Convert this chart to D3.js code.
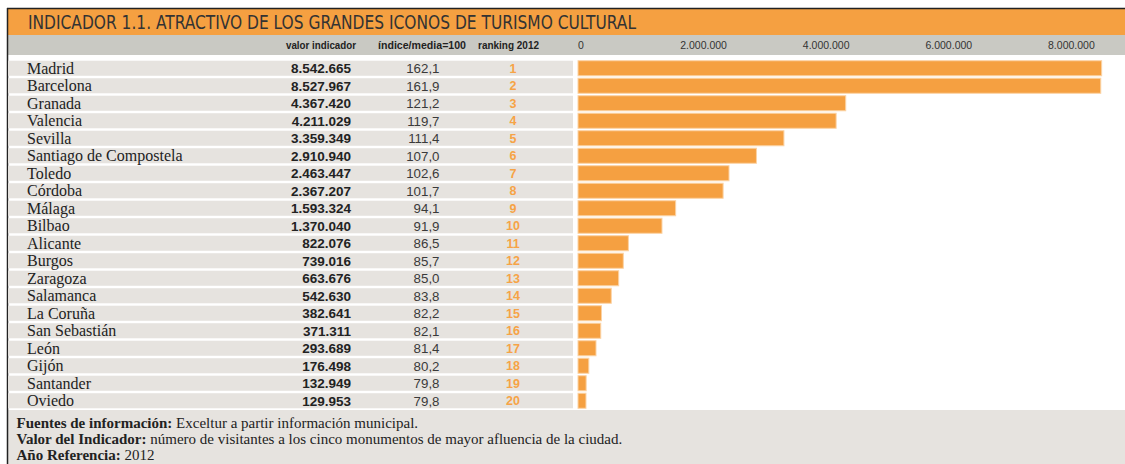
<!DOCTYPE html>
<html>
<head>
<meta charset="utf-8">
<script src="https://cdn.jsdelivr.net/npm/d3@7"></script>
<style>
  body { margin: 0; background: #fff; }
  svg { display: block; }
</style>
</head>
<body>
<svg width="1125" height="464"></svg>
<script>
// data
var cities = ["Madrid", "Barcelona", "Granada", "Valencia", "Sevilla", "Santiago de Compostela",
  "Toledo", "Córdoba", "Málaga", "Bilbao", "Alicante", "Burgos", "Zaragoza", "Salamanca",
  "La Coruña", "San Sebastián", "León", "Gijón", "Santander", "Oviedo"];
var visitors = [8542665, 8527967, 4367420, 4211029, 3359349, 2910940, 2463447, 2367207,
  1593324, 1370040, 822076, 739016, 663676, 542630, 382641, 371311, 293689, 176498, 132949, 129953];
var indexValues = ["162,1", "161,9", "121,2", "119,7", "111,4", "107,0", "102,6", "101,7",
  "94,1", "91,9", "86,5", "85,7", "85,0", "83,8", "82,2", "82,1", "81,4", "80,2", "79,8", "79,8"];
var ranking = d3.range(1, 21);
var xTicks = [0, 2000000, 4000000, 6000000, 8000000];
var columnHeaders = ["valor indicador", "índice/media=100", "ranking 2012"];
var title = "INDICADOR 1.1. ATRACTIVO DE LOS GRANDES ICONOS DE TURISMO CULTURAL";
var notes = [
  ["Fuentes de información:", " Exceltur a partir información municipal."],
  ["Valor del Indicador:", " número de visitantes a los cinco monumentos de mayor afluencia de la ciudad."],
  ["Año Referencia:", " 2012"]
];

var orange = "#f5a041",
    rowGrey = "#e6e3df",
    headGrey = "#c9c9c3",
    dark = "#222";

var svg = d3.select("svg");
var W = 1125, H = 464;

var es = d3.formatLocale({decimal: ",", thousands: ".", grouping: [3], currency: ["", "€"]});
var fmt = es.format(",d");

// frame
svg.append("rect").attr("x", 8).attr("y", 9).attr("width", W - 8).attr("height", 26).attr("fill", orange);
svg.append("rect").attr("x", 8).attr("y", 35).attr("width", W - 8).attr("height", 20).attr("fill", headGrey);
svg.append("rect").attr("x", 8).attr("y", 410).attr("width", W - 8).attr("height", H - 410).attr("fill", rowGrey);
svg.append("line").attr("x1", 7).attr("x2", W).attr("y1", 8.5).attr("y2", 8.5).attr("stroke", "#222").attr("stroke-width", 1.5);
svg.append("line").attr("x1", 7.5).attr("x2", 7.5).attr("y1", 8).attr("y2", H).attr("stroke", "#222").attr("stroke-width", 1.5);

svg.append("text")
  .attr("x", 28).attr("y", 28.5)
  .attr("font-family", "'Liberation Sans Narrow', 'DejaVu Sans Condensed', sans-serif")
  .attr("font-size", 19)
  .attr("fill", "#333")
  .attr("textLength", 608)
  .attr("lengthAdjust", "spacingAndGlyphs")
  .text(title);

// scales
var y = d3.scaleBand().domain(cities).range([59.5, 409.5]).paddingInner(0.14).paddingOuter(0.07);
var x = d3.scaleLinear().domain([0, 8000000]).range([578, 1068.4]);

// column headers
var headX = [286, 378, 478], headW = [70, 88, 61];
svg.selectAll(".colhead").data(columnHeaders).enter().append("text")
  .attr("class", "colhead")
  .attr("x", function(d, i) { return headX[i]; })
  .attr("y", 48.5)
  .attr("font-family", "'Liberation Sans Narrow', 'Liberation Sans', Arial, sans-serif")
  .attr("font-weight", "bold")
  .attr("font-size", 10)
  .attr("fill", dark)
  .attr("textLength", function(d, i) { return headW[i]; })
  .attr("lengthAdjust", "spacingAndGlyphs")
  .text(function(d) { return d; });

// axis labels on the grey bar
svg.selectAll(".tick-lbl").data(xTicks).enter().append("text")
  .attr("class", "tick-lbl")
  .attr("x", function(d) { return x(d) + 3; })
  .attr("y", 48.5)
  .attr("text-anchor", "middle")
  .attr("font-family", "'Liberation Sans Narrow', 'Liberation Sans', Arial, sans-serif")
  .attr("font-size", 10.5)
  .attr("fill", "#333")
  .text(function(d) { return fmt(d); });

// rows
var rows = svg.selectAll(".row").data(cities).enter().append("g")
  .attr("class", "row")
  .attr("transform", function(d) { return "translate(0," + y(d) + ")"; });

rows.append("rect")
  .attr("x", 8).attr("width", 565)
  .attr("height", y.bandwidth())
  .attr("fill", rowGrey);

var mid = y.bandwidth() / 2;

rows.append("text")
  .attr("x", 27).attr("y", mid + 5.5)
  .attr("font-family", "'Liberation Serif', 'Times New Roman', serif")
  .attr("font-size", 16)
  .attr("fill", dark)
  .text(function(d) { return d; });

rows.append("text")
  .attr("x", 351).attr("y", mid + 4.8)
  .attr("text-anchor", "end")
  .attr("font-family", "'Liberation Sans', Arial, sans-serif")
  .attr("font-weight", "bold")
  .attr("font-size", 13.5)
  .attr("fill", dark)
  .text(function(d, i) { return fmt(visitors[i]); });

rows.append("text")
  .attr("x", 439.5).attr("y", mid + 4.8)
  .attr("text-anchor", "end")
  .attr("font-family", "'Liberation Sans', Arial, sans-serif")
  .attr("font-size", 13.3)
  .attr("fill", "#3a3a3a")
  .text(function(d, i) { return indexValues[i]; });

rows.append("text")
  .attr("x", 513).attr("y", mid + 4.5)
  .attr("text-anchor", "middle")
  .attr("font-family", "'Liberation Sans', Arial, sans-serif")
  .attr("font-weight", "bold")
  .attr("font-size", 12.5)
  .attr("fill", "#f6a346")
  .text(function(d, i) { return ranking[i]; });

rows.append("rect")
  .attr("x", x(0))
  .attr("width", function(d, i) { return x(visitors[i]) - x(0); })
  .attr("height", y.bandwidth())
  .attr("fill", orange)
  .attr("stroke", "#fbd3a5")
  .attr("stroke-width", 1);

// footer notes
var note = svg.selectAll(".note").data(notes).enter().append("text")
  .attr("class", "note")
  .attr("x", 16.5)
  .attr("y", function(d, i) { return 427.5 + i * 16.3; })
  .attr("font-family", "'Liberation Serif', 'Times New Roman', serif")
  .attr("font-size", 15)
  .attr("fill", dark);
note.append("tspan").attr("font-weight", "bold").text(function(d) { return d[0]; });
note.append("tspan").text(function(d) { return d[1]; });
</script>
</body>
</html>
